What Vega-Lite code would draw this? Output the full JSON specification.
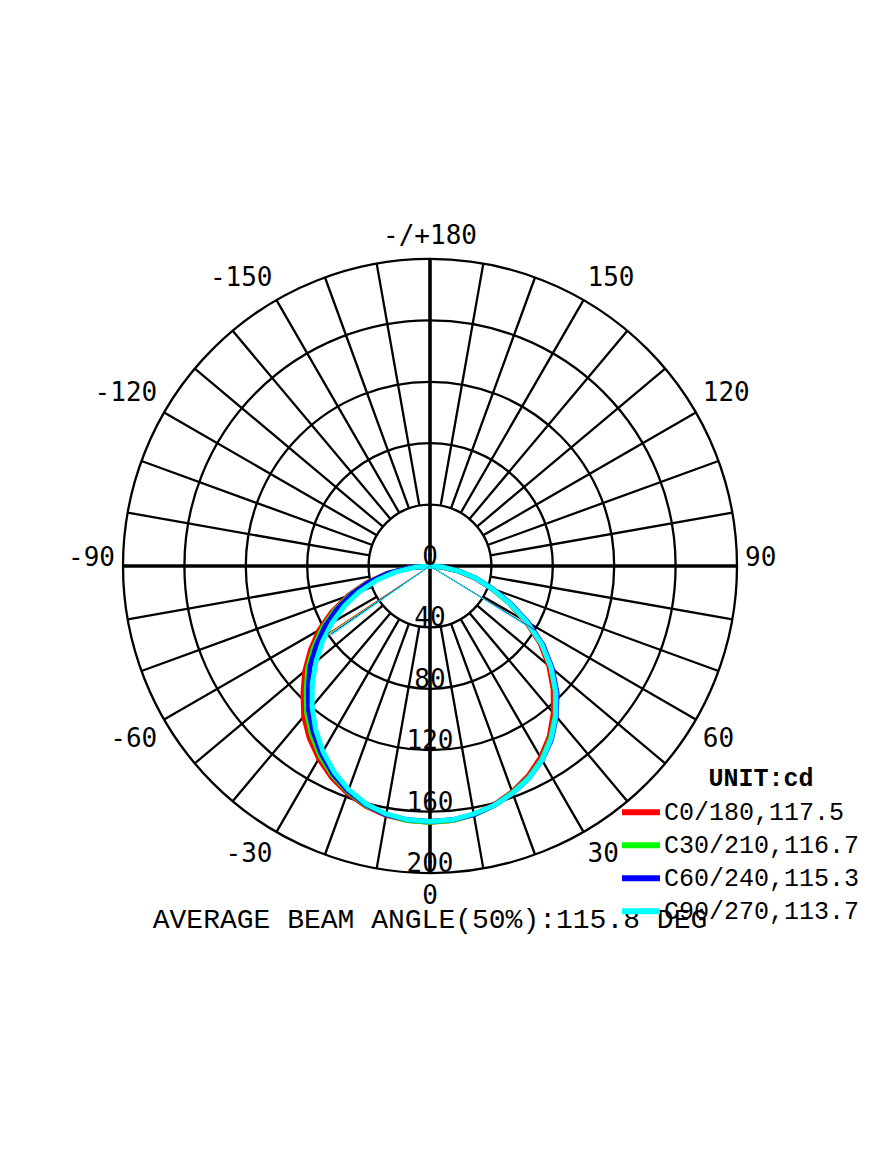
{
  "$schema": "https://vega.github.io/schema/vega-lite/v6.json",
  "width": 614,
  "height": 614,
  "autosize": {"type": "none"},
  "padding": {"left": 123, "top": 259, "right": 138, "bottom": 293},
  "background": "white",
  "config": {"view": {"stroke": null}},
  "datasets": {
    "rings": [{"r": 40}, {"r": 80}, {"r": 120}, {"r": 160}, {"r": 200}],
    "spokes": [{"a": 10}, {"a": 20}, {"a": 30}, {"a": 40}, {"a": 50}, {"a": 60}, {"a": 70}, {"a": 80}, {"a": 100}, {"a": 110}, {"a": 120}, {"a": 130}, {"a": 140}, {"a": 150}, {"a": 160}, {"a": 170}, {"a": -10}, {"a": -20}, {"a": -30}, {"a": -40}, {"a": -50}, {"a": -60}, {"a": -70}, {"a": -80}, {"a": -100}, {"a": -110}, {"a": -120}, {"a": -130}, {"a": -140}, {"a": -150}, {"a": -160}, {"a": -170}],
    "axes": [{"a": 0}, {"a": 90}],
    "ringlabels": [{"r": 0, "t": "0"}, {"r": 40, "t": "40"}, {"r": 80, "t": "80"}, {"r": 120, "t": "120"}, {"r": 160, "t": "160"}, {"r": 200, "t": "200"}],
    "anglelabels": [{"a": 180, "t": "-/+180"}, {"a": 150, "t": "150"}, {"a": 120, "t": "120"}, {"a": 90, "t": "90"}, {"a": 60, "t": "60"}, {"a": 30, "t": "30"}, {"a": 0, "t": "0"}, {"a": -30, "t": "-30"}, {"a": -60, "t": "-60"}, {"a": -90, "t": "-90"}, {"a": -120, "t": "-120"}, {"a": -150, "t": "-150"}],
    "beam": [
      {"p": "C0/180,117.5", "a": -56.5, "v": 80},
      {"p": "C30/210,116.7", "a": -56, "v": 79},
      {"p": "C60/240,115.3", "a": -55.5, "v": 78.5},
      {"p": "C90/270,113.7", "a": -55, "v": 78},
      {"p": "C0/180,117.5", "a": 58.7, "v": 80.5},
      {"p": "C30/210,116.7", "a": 58.5, "v": 80},
      {"p": "C60/240,115.3", "a": 58.5, "v": 80},
      {"p": "C90/270,113.7", "a": 58.3, "v": 80}
    ],
    "curves": [
      {"p": "C0/180,117.5", "a": -90, "v": 0}, {"p": "C0/180,117.5", "a": -85, "v": 14}, {"p": "C0/180,117.5", "a": -80, "v": 29}, {"p": "C0/180,117.5", "a": -75, "v": 43}, {"p": "C0/180,117.5", "a": -70, "v": 57}, {"p": "C0/180,117.5", "a": -65, "v": 70.5}, {"p": "C0/180,117.5", "a": -60, "v": 83.5}, {"p": "C0/180,117.5", "a": -55, "v": 95}, {"p": "C0/180,117.5", "a": -50, "v": 106.5}, {"p": "C0/180,117.5", "a": -45, "v": 117}, {"p": "C0/180,117.5", "a": -40, "v": 128}, {"p": "C0/180,117.5", "a": -35, "v": 137}, {"p": "C0/180,117.5", "a": -30, "v": 145}, {"p": "C0/180,117.5", "a": -25, "v": 152}, {"p": "C0/180,117.5", "a": -20, "v": 157.5}, {"p": "C0/180,117.5", "a": -15, "v": 162}, {"p": "C0/180,117.5", "a": -10, "v": 165}, {"p": "C0/180,117.5", "a": -5, "v": 166.5}, {"p": "C0/180,117.5", "a": 0, "v": 167}, {"p": "C0/180,117.5", "a": 5, "v": 166.5}, {"p": "C0/180,117.5", "a": 10, "v": 164.5}, {"p": "C0/180,117.5", "a": 15, "v": 161}, {"p": "C0/180,117.5", "a": 20, "v": 156.5}, {"p": "C0/180,117.5", "a": 25, "v": 151}, {"p": "C0/180,117.5", "a": 30, "v": 144}, {"p": "C0/180,117.5", "a": 35, "v": 135.5}, {"p": "C0/180,117.5", "a": 40, "v": 125}, {"p": "C0/180,117.5", "a": 45, "v": 113.5}, {"p": "C0/180,117.5", "a": 50, "v": 101}, {"p": "C0/180,117.5", "a": 55, "v": 87.5}, {"p": "C0/180,117.5", "a": 60, "v": 72}, {"p": "C0/180,117.5", "a": 65, "v": 56.5}, {"p": "C0/180,117.5", "a": 70, "v": 42.5}, {"p": "C0/180,117.5", "a": 75, "v": 30.5}, {"p": "C0/180,117.5", "a": 80, "v": 18.5}, {"p": "C0/180,117.5", "a": 85, "v": 8}, {"p": "C0/180,117.5", "a": 90, "v": 0},
      {"p": "C30/210,116.7", "a": -90, "v": 0}, {"p": "C30/210,116.7", "a": -85, "v": 13}, {"p": "C30/210,116.7", "a": -80, "v": 28}, {"p": "C30/210,116.7", "a": -75, "v": 42}, {"p": "C30/210,116.7", "a": -70, "v": 55.5}, {"p": "C30/210,116.7", "a": -65, "v": 68.5}, {"p": "C30/210,116.7", "a": -60, "v": 81}, {"p": "C30/210,116.7", "a": -55, "v": 92.5}, {"p": "C30/210,116.7", "a": -50, "v": 104}, {"p": "C30/210,116.7", "a": -45, "v": 114}, {"p": "C30/210,116.7", "a": -40, "v": 125}, {"p": "C30/210,116.7", "a": -35, "v": 134.5}, {"p": "C30/210,116.7", "a": -30, "v": 143}, {"p": "C30/210,116.7", "a": -25, "v": 150.5}, {"p": "C30/210,116.7", "a": -20, "v": 156.5}, {"p": "C30/210,116.7", "a": -15, "v": 161.5}, {"p": "C30/210,116.7", "a": -10, "v": 164.5}, {"p": "C30/210,116.7", "a": -5, "v": 166.5}, {"p": "C30/210,116.7", "a": 0, "v": 167}, {"p": "C30/210,116.7", "a": 5, "v": 166.5}, {"p": "C30/210,116.7", "a": 10, "v": 164.5}, {"p": "C30/210,116.7", "a": 15, "v": 161.5}, {"p": "C30/210,116.7", "a": 20, "v": 157}, {"p": "C30/210,116.7", "a": 25, "v": 152}, {"p": "C30/210,116.7", "a": 30, "v": 145.5}, {"p": "C30/210,116.7", "a": 35, "v": 137}, {"p": "C30/210,116.7", "a": 40, "v": 127}, {"p": "C30/210,116.7", "a": 45, "v": 115.5}, {"p": "C30/210,116.7", "a": 50, "v": 103}, {"p": "C30/210,116.7", "a": 55, "v": 89}, {"p": "C30/210,116.7", "a": 60, "v": 73}, {"p": "C30/210,116.7", "a": 65, "v": 57}, {"p": "C30/210,116.7", "a": 70, "v": 43}, {"p": "C30/210,116.7", "a": 75, "v": 31}, {"p": "C30/210,116.7", "a": 80, "v": 19}, {"p": "C30/210,116.7", "a": 85, "v": 8}, {"p": "C30/210,116.7", "a": 90, "v": 0},
      {"p": "C60/240,115.3", "a": -90, "v": 0}, {"p": "C60/240,115.3", "a": -85, "v": 13}, {"p": "C60/240,115.3", "a": -80, "v": 28}, {"p": "C60/240,115.3", "a": -75, "v": 41.5}, {"p": "C60/240,115.3", "a": -70, "v": 54.5}, {"p": "C60/240,115.3", "a": -65, "v": 67}, {"p": "C60/240,115.3", "a": -60, "v": 79}, {"p": "C60/240,115.3", "a": -55, "v": 90.5}, {"p": "C60/240,115.3", "a": -50, "v": 102}, {"p": "C60/240,115.3", "a": -45, "v": 112}, {"p": "C60/240,115.3", "a": -40, "v": 123}, {"p": "C60/240,115.3", "a": -35, "v": 132.5}, {"p": "C60/240,115.3", "a": -30, "v": 141.5}, {"p": "C60/240,115.3", "a": -25, "v": 149.5}, {"p": "C60/240,115.3", "a": -20, "v": 156}, {"p": "C60/240,115.3", "a": -15, "v": 161}, {"p": "C60/240,115.3", "a": -10, "v": 164.5}, {"p": "C60/240,115.3", "a": -5, "v": 166}, {"p": "C60/240,115.3", "a": 0, "v": 166.5}, {"p": "C60/240,115.3", "a": 5, "v": 166}, {"p": "C60/240,115.3", "a": 10, "v": 164.5}, {"p": "C60/240,115.3", "a": 15, "v": 161.5}, {"p": "C60/240,115.3", "a": 20, "v": 157.5}, {"p": "C60/240,115.3", "a": 25, "v": 152.5}, {"p": "C60/240,115.3", "a": 30, "v": 146}, {"p": "C60/240,115.3", "a": 35, "v": 138}, {"p": "C60/240,115.3", "a": 40, "v": 128}, {"p": "C60/240,115.3", "a": 45, "v": 117}, {"p": "C60/240,115.3", "a": 50, "v": 104}, {"p": "C60/240,115.3", "a": 55, "v": 90}, {"p": "C60/240,115.3", "a": 60, "v": 74}, {"p": "C60/240,115.3", "a": 65, "v": 58}, {"p": "C60/240,115.3", "a": 70, "v": 43.5}, {"p": "C60/240,115.3", "a": 75, "v": 31}, {"p": "C60/240,115.3", "a": 80, "v": 19}, {"p": "C60/240,115.3", "a": 85, "v": 8}, {"p": "C60/240,115.3", "a": 90, "v": 0},
      {"p": "C90/270,113.7", "a": -90, "v": 0}, {"p": "C90/270,113.7", "a": -85, "v": 10}, {"p": "C90/270,113.7", "a": -80, "v": 23}, {"p": "C90/270,113.7", "a": -75, "v": 36}, {"p": "C90/270,113.7", "a": -70, "v": 49}, {"p": "C90/270,113.7", "a": -65, "v": 61.5}, {"p": "C90/270,113.7", "a": -60, "v": 73.5}, {"p": "C90/270,113.7", "a": -55, "v": 85.5}, {"p": "C90/270,113.7", "a": -50, "v": 97}, {"p": "C90/270,113.7", "a": -45, "v": 108.5}, {"p": "C90/270,113.7", "a": -40, "v": 119.5}, {"p": "C90/270,113.7", "a": -35, "v": 130}, {"p": "C90/270,113.7", "a": -30, "v": 139.5}, {"p": "C90/270,113.7", "a": -25, "v": 148}, {"p": "C90/270,113.7", "a": -20, "v": 155}, {"p": "C90/270,113.7", "a": -15, "v": 160.5}, {"p": "C90/270,113.7", "a": -10, "v": 164}, {"p": "C90/270,113.7", "a": -5, "v": 166}, {"p": "C90/270,113.7", "a": 0, "v": 166.5}, {"p": "C90/270,113.7", "a": 5, "v": 166}, {"p": "C90/270,113.7", "a": 10, "v": 164}, {"p": "C90/270,113.7", "a": 15, "v": 161.5}, {"p": "C90/270,113.7", "a": 20, "v": 157.5}, {"p": "C90/270,113.7", "a": 25, "v": 152.5}, {"p": "C90/270,113.7", "a": 30, "v": 146}, {"p": "C90/270,113.7", "a": 35, "v": 137.5}, {"p": "C90/270,113.7", "a": 40, "v": 127.5}, {"p": "C90/270,113.7", "a": 45, "v": 116}, {"p": "C90/270,113.7", "a": 50, "v": 103}, {"p": "C90/270,113.7", "a": 55, "v": 89}, {"p": "C90/270,113.7", "a": 60, "v": 73}, {"p": "C90/270,113.7", "a": 65, "v": 57}, {"p": "C90/270,113.7", "a": 70, "v": 43}, {"p": "C90/270,113.7", "a": 75, "v": 31}, {"p": "C90/270,113.7", "a": 80, "v": 19}, {"p": "C90/270,113.7", "a": 85, "v": 8}, {"p": "C90/270,113.7", "a": 90, "v": 0}
    ]
  },
  "layer": [
    {
      "data": {"name": "rings"},
      "transform": [{"calculate": "0", "as": "ox"}, {"calculate": "0", "as": "oy"}],
      "mark": {"type": "point", "shape": "circle", "filled": false, "stroke": "#000000", "strokeWidth": 2.3, "opacity": 1},
      "encoding": {
        "x": {"field": "ox", "type": "quantitative", "scale": {"domain": [-200, 200], "nice": false, "zero": false}, "axis": null},
        "y": {"field": "oy", "type": "quantitative", "scale": {"domain": [-200, 200], "nice": false, "zero": false}, "axis": null},
        "size": {"field": "r", "type": "quantitative", "scale": {"type": "pow", "exponent": 2, "domain": [0, 200], "range": [0, 376996], "zero": true}, "legend": null}
      }
    },
    {
      "data": {"name": "spokes"},
      "transform": [
        {"calculate": "40*sin(datum.a*PI/180)", "as": "x1"},
        {"calculate": "-40*cos(datum.a*PI/180)", "as": "y1"},
        {"calculate": "200*sin(datum.a*PI/180)", "as": "x2"},
        {"calculate": "-200*cos(datum.a*PI/180)", "as": "y2"}
      ],
      "mark": {"type": "rule", "color": "#000000", "strokeWidth": 2.3},
      "encoding": {
        "x": {"field": "x1", "type": "quantitative"},
        "y": {"field": "y1", "type": "quantitative"},
        "x2": {"field": "x2"},
        "y2": {"field": "y2"}
      }
    },
    {
      "data": {"name": "axes"},
      "transform": [
        {"calculate": "200*sin(datum.a*PI/180)", "as": "x1"},
        {"calculate": "-200*cos(datum.a*PI/180)", "as": "y1"},
        {"calculate": "-200*sin(datum.a*PI/180)", "as": "x2"},
        {"calculate": "200*cos(datum.a*PI/180)", "as": "y2"}
      ],
      "mark": {"type": "rule", "color": "#000000", "strokeWidth": 3.6},
      "encoding": {
        "x": {"field": "x1", "type": "quantitative"},
        "y": {"field": "y1", "type": "quantitative"},
        "x2": {"field": "x2"},
        "y2": {"field": "y2"}
      }
    },
    {
      "data": {"name": "curves"},
      "transform": [
        {"calculate": "datum.v*sin(datum.a*PI/180)", "as": "cx"},
        {"calculate": "-datum.v*cos(datum.a*PI/180)", "as": "cy"}
      ],
      "mark": {"type": "line", "strokeWidth": 5, "strokeJoin": "round", "strokeCap": "round"},
      "encoding": {
        "x": {"field": "cx", "type": "quantitative"},
        "y": {"field": "cy", "type": "quantitative"},
        "order": {"field": "a", "type": "quantitative"},
        "color": {
          "field": "p", "type": "nominal",
          "scale": {"domain": ["C0/180,117.5", "C30/210,116.7", "C60/240,115.3", "C90/270,113.7"], "range": ["#ff0000", "#00ff00", "#0000ff", "#00ffff"]},
          "legend": {
            "orient": "none", "legendX": 496, "legendY": 537, "title": null, "padding": 0,
            "symbolType": "stroke", "symbolSize": 1444, "symbolStrokeWidth": 6, "symbolOffset": 0,
            "labelFont": "Liberation Mono", "labelFontSize": 25, "labelColor": "#000000", "labelOffset": 1, "labelLimit": 400,
            "clipHeight": 32.7, "rowPadding": 0
          }
        }
      }
    },
    {
      "data": {"name": "beam"},
      "transform": [
        {"calculate": "0", "as": "ox"},
        {"calculate": "0", "as": "oy"},
        {"calculate": "datum.v*sin(datum.a*PI/180)", "as": "bx"},
        {"calculate": "-datum.v*cos(datum.a*PI/180)", "as": "by"}
      ],
      "mark": {"type": "rule", "strokeWidth": 1},
      "encoding": {
        "x": {"field": "ox", "type": "quantitative"},
        "y": {"field": "oy", "type": "quantitative"},
        "x2": {"field": "bx"},
        "y2": {"field": "by"},
        "color": {"field": "p", "type": "nominal", "legend": null}
      }
    },
    {
      "data": {"name": "ringlabels"},
      "transform": [{"calculate": "0", "as": "rx"}, {"calculate": "-datum.r", "as": "ry"}],
      "mark": {"type": "text", "font": "DejaVu Sans Mono", "fontSize": 26, "align": "center", "baseline": "alphabetic", "dy": -1, "color": "#000000"},
      "encoding": {
        "x": {"field": "rx", "type": "quantitative"},
        "y": {"field": "ry", "type": "quantitative"},
        "text": {"field": "t"}
      }
    },
    {
      "data": {"name": "anglelabels"},
      "transform": [
        {"filter": "datum.a == 0 || datum.a == 180"},
        {"calculate": "0", "as": "lx"},
        {"calculate": "-205.2*cos(datum.a*PI/180) - (datum.a == 0 ? 10.1 : -10.1)", "as": "ly"}
      ],
      "mark": {"type": "text", "font": "DejaVu Sans Mono", "fontSize": 26, "align": "center", "baseline": "middle", "color": "#000000"},
      "encoding": {
        "x": {"field": "lx", "type": "quantitative"},
        "y": {"field": "ly", "type": "quantitative"},
        "text": {"field": "t"}
      }
    },
    {
      "data": {"name": "anglelabels"},
      "transform": [
        {"filter": "datum.a > 0 && datum.a < 180"},
        {"calculate": "205.2*sin(datum.a*PI/180)", "as": "lx"},
        {"calculate": "-205.2*cos(datum.a*PI/180) - (abs(datum.a) < 90 ? 10.1 : (abs(datum.a) > 90 ? -10.1 : -5.2))", "as": "ly"}
      ],
      "mark": {"type": "text", "font": "DejaVu Sans Mono", "fontSize": 26, "align": "left", "baseline": "middle", "color": "#000000"},
      "encoding": {
        "x": {"field": "lx", "type": "quantitative"},
        "y": {"field": "ly", "type": "quantitative"},
        "text": {"field": "t"}
      }
    },
    {
      "data": {"name": "anglelabels"},
      "transform": [
        {"filter": "datum.a < 0"},
        {"calculate": "205.2*sin(datum.a*PI/180)", "as": "lx"},
        {"calculate": "-205.2*cos(datum.a*PI/180) - (abs(datum.a) < 90 ? 10.1 : (abs(datum.a) > 90 ? -10.1 : -5.2))", "as": "ly"}
      ],
      "mark": {"type": "text", "font": "DejaVu Sans Mono", "fontSize": 26, "align": "right", "baseline": "middle", "color": "#000000"},
      "encoding": {
        "x": {"field": "lx", "type": "quantitative"},
        "y": {"field": "ly", "type": "quantitative"},
        "text": {"field": "t"}
      }
    },
    {
      "data": {"values": [{"t": "AVERAGE BEAM ANGLE(50%):115.8 DEG", "px": 0, "py": -235.8}]},
      "mark": {"type": "text", "font": "Liberation Mono", "fontSize": 28, "align": "center", "baseline": "alphabetic", "color": "#000000"},
      "encoding": {
        "x": {"field": "px", "type": "quantitative"},
        "y": {"field": "py", "type": "quantitative"},
        "text": {"field": "t"}
      }
    },
    {
      "data": {"values": [{"t": "UNIT:cd", "px": 215.6, "py": -138.1}]},
      "mark": {"type": "text", "font": "Liberation Mono", "fontSize": 25, "fontWeight": "bold", "align": "center", "baseline": "middle", "color": "#000000"},
      "encoding": {
        "x": {"field": "px", "type": "quantitative"},
        "y": {"field": "py", "type": "quantitative"},
        "text": {"field": "t"}
      }
    }
  ]
}
